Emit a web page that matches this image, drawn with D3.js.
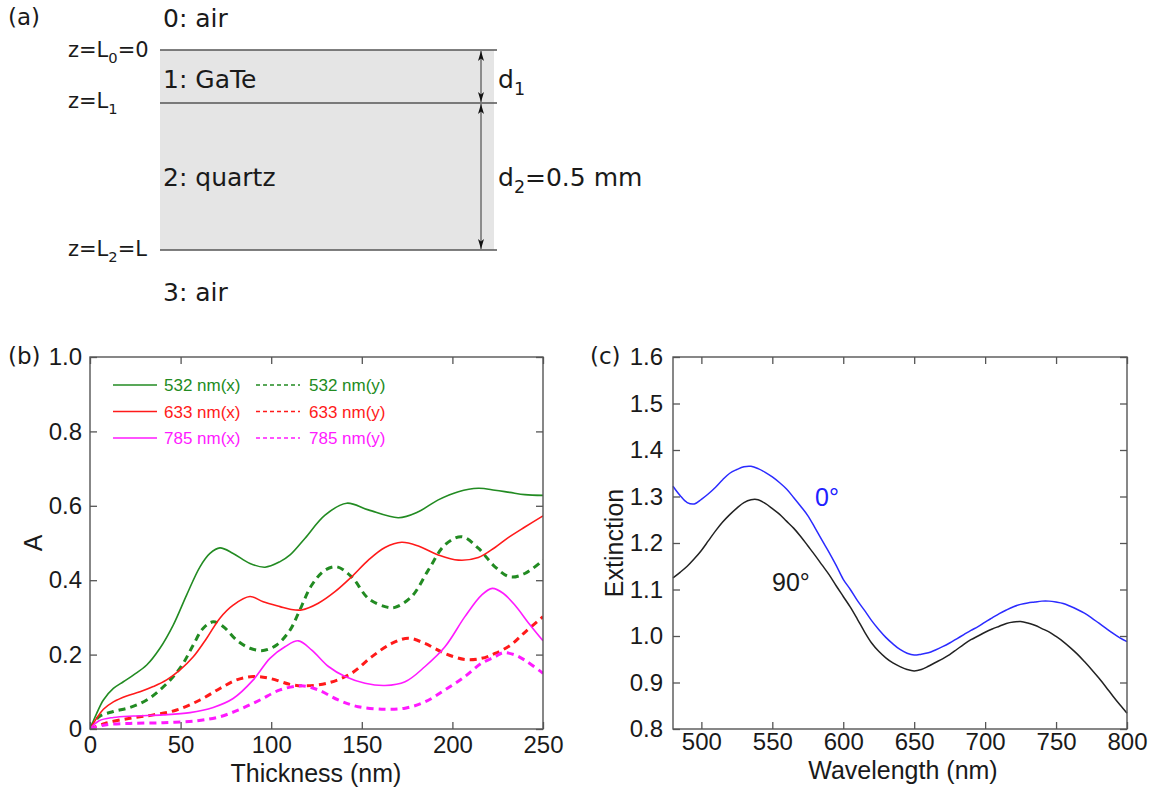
<!DOCTYPE html>
<html>
<head>
<meta charset="utf-8">
<script src="https://cdn.jsdelivr.net/npm/d3@7"></script>
<style>
  body { margin: 0; background: #fff; }
</style>
</head>
<body>
<svg id="fig" width="1157" height="792"></svg>
<script>
// panel (b): absorbance vs GaTe thickness, [thickness nm, A]
const g532x = [[0,0],[3.7,0.042],[7.4,0.078],[12.9,0.109],[18.4,0.127],[23.9,0.145],[31.3,0.172],[38.6,0.217],[46,0.28],[53.3,0.36],[60.7,0.436],[66.2,0.472],[71.7,0.487],[79,0.472],[88.3,0.445],[96.6,0.435],[104.9,0.45],[110.4,0.468],[118.7,0.513],[129.7,0.575],[141.7,0.607],[153.6,0.589],[170.2,0.568],[181.2,0.584],[192.2,0.616],[203.3,0.638],[214.3,0.647],[223.5,0.642],[231.7,0.636],[240,0.63],[250,0.628]];
const g532y = [[0,0],[5,0.033],[12.9,0.047],[22.1,0.058],[31.3,0.078],[38.6,0.105],[46,0.141],[51.5,0.177],[57,0.226],[62.5,0.271],[68,0.288],[73.6,0.275],[80.9,0.239],[88.3,0.217],[95.6,0.211],[103,0.226],[110.4,0.266],[115,0.311],[122.4,0.387],[129.7,0.427],[136.2,0.436],[144.4,0.409],[153.6,0.351],[162.8,0.329],[168.3,0.327],[177.5,0.356],[186.7,0.427],[195.9,0.495],[205.1,0.517],[214.3,0.486],[223.5,0.436],[231.7,0.409],[240,0.418],[250,0.454]];
const r633x = [[0,0],[3.7,0.029],[7.4,0.053],[12.9,0.073],[20.2,0.089],[27.6,0.1],[34.9,0.114],[42.3,0.132],[49.7,0.159],[57,0.194],[64.4,0.244],[71.7,0.298],[79,0.333],[88.3,0.356],[95.6,0.342],[104.9,0.329],[110.4,0.322],[116.8,0.32],[126,0.338],[135.2,0.369],[144.4,0.409],[153.6,0.454],[162.8,0.488],[172,0.502],[181.2,0.492],[192.2,0.468],[203.3,0.454],[214.3,0.461],[223.5,0.488],[231,0.515],[240,0.543],[250,0.573]];
const r633y = [[0,0],[8.3,0.015],[22.1,0.029],[34.9,0.038],[47.8,0.051],[60.7,0.078],[71.7,0.109],[80.9,0.132],[90.1,0.141],[99.3,0.136],[110.4,0.12],[118.7,0.116],[131.6,0.124],[144.4,0.15],[155.4,0.194],[166.5,0.23],[175.7,0.244],[184.8,0.23],[195.9,0.203],[206.9,0.187],[216.1,0.19],[223.5,0.203],[232,0.225],[240,0.26],[250,0.302]];
const m785x = [[0,0],[5,0.022],[12.9,0.031],[23.9,0.035],[40.4,0.038],[55.2,0.044],[68,0.058],[79,0.082],[90.1,0.132],[99.3,0.19],[107.6,0.221],[115,0.237],[122.4,0.212],[131.6,0.168],[140.8,0.141],[151.8,0.123],[162.8,0.117],[173.9,0.127],[184.9,0.168],[195.9,0.221],[206.9,0.302],[216.1,0.36],[222,0.378],[228,0.365],[235,0.33],[242,0.285],[250,0.237]];
const m785y = [[0,0],[8.3,0.011],[22.1,0.015],[40.4,0.017],[58.8,0.022],[71.7,0.033],[82.8,0.053],[93.8,0.078],[104.9,0.105],[116.8,0.116],[126,0.105],[137,0.078],[148,0.06],[162.8,0.053],[173.9,0.056],[184.9,0.073],[195.9,0.105],[206.9,0.141],[216.1,0.177],[223.5,0.194],[228,0.205],[234,0.2],[240,0.185],[250,0.15]];

const thickTicks = [0, 50, 100, 150, 200, 250];
const absTicks = [0, 0.2, 0.4, 0.6, 0.8, 1.0];

// panel (c): extinction spectra, one value every 5 nm from 480 to 800
const wavelengths = d3.range(480, 801, 5);
const ext0 = [1.322,1.302,1.287,1.284,1.294,1.306,1.32,1.336,1.35,1.358,1.364,1.365,1.36,1.352,1.342,1.33,1.316,1.298,1.279,1.259,1.233,1.206,1.18,1.152,1.122,1.1,1.076,1.055,1.033,1.014,0.997,0.983,0.971,0.963,0.959,0.961,0.964,0.97,0.977,0.985,0.994,1.003,1.012,1.02,1.03,1.039,1.048,1.056,1.063,1.068,1.071,1.073,1.075,1.075,1.073,1.07,1.064,1.057,1.049,1.039,1.028,1.017,1.006,0.996,0.988];
const ext90 = [1.125,1.137,1.15,1.166,1.184,1.205,1.226,1.245,1.261,1.275,1.287,1.293,1.293,1.285,1.274,1.262,1.247,1.232,1.214,1.194,1.174,1.153,1.132,1.108,1.085,1.062,1.036,1.009,0.985,0.967,0.953,0.942,0.934,0.928,0.925,0.928,0.935,0.943,0.951,0.96,0.971,0.982,0.992,1.0,1.008,1.015,1.021,1.027,1.03,1.031,1.028,1.023,1.016,1.009,0.999,0.988,0.975,0.961,0.945,0.928,0.91,0.891,0.871,0.852,0.834];
const waveTicks = [500, 550, 600, 650, 700, 750, 800];
const extTicks = [0.8, 0.9, 1.0, 1.1, 1.2, 1.3, 1.4, 1.5, 1.6];

const GREEN = '#228b22', RED = '#ff1a1a', MAG = '#ff1aff', INK = '#1a1a1a';
const legendItems = [
  { label: '532 nm(x)', data: g532x, color: GREEN, dash: false },
  { label: '532 nm(y)', data: g532y, color: GREEN, dash: true },
  { label: '633 nm(x)', data: r633x, color: RED, dash: false },
  { label: '633 nm(y)', data: r633y, color: RED, dash: true },
  { label: '785 nm(x)', data: m785x, color: MAG, dash: false },
  { label: '785 nm(y)', data: m785y, color: MAG, dash: true },
];

const svg = d3.select('#fig');
svg.append('rect').attr('width', 1157).attr('height', 792).attr('fill', '#fff');

const LAB = 'DejaVu Sans, sans-serif';
const NUM = 'Liberation Sans, Arial, sans-serif';

// ---------- panel (a): layer stack ----------
const a = svg.append('g');
a.append('text').attr('x', 8).attr('y', 25).style('font', `23px ${LAB}`).style('fill', INK).text('(a)');
a.append('rect').attr('x', 160).attr('y', 50).attr('width', 334).attr('height', 200).attr('fill', '#e5e5e5');
[50, 103, 250].forEach(y => {
  a.append('line').attr('x1', 160).attr('x2', 497).attr('y1', y).attr('y2', y)
    .attr('stroke', '#555').attr('stroke-width', 1.6);
});

const defs = svg.append('defs');
defs.append('marker').attr('id', 'ah').attr('viewBox', '0 0 10 6')
  .attr('refX', 10).attr('refY', 3).attr('markerWidth', 10).attr('markerHeight', 6)
  .attr('markerUnits', 'userSpaceOnUse').attr('orient', 'auto-start-reverse')
  .append('path').attr('d', 'M0,0 L10,3 L0,6 L2.5,3 Z').attr('fill', '#111');
[[51, 102], [104, 249]].forEach(([y1, y2]) => {
  a.append('line').attr('x1', 481).attr('x2', 481).attr('y1', y1).attr('y2', y2)
    .attr('stroke', '#333').attr('stroke-width', 1)
    .attr('marker-start', 'url(#ah)').attr('marker-end', 'url(#ah)');
});

// text with subscripts via dy shifts
function label(g, x, y, size, pieces) {
  const t = g.append('text').attr('x', x).attr('y', y)
    .style('font', `${size}px ${LAB}`).style('fill', INK);
  let down = false;
  pieces.forEach(p => {
    const isSub = typeof p !== 'string';
    const s = t.append('tspan').text(isSub ? p.sub : p);
    if (isSub && !down) { s.attr('dy', size * 0.28).style('font-size', `${size * 0.7}px`); down = true; }
    else if (!isSub && down) { s.attr('dy', -size * 0.28); down = false; }
  });
}
label(a, 163, 27, 25, ['0: air']);
label(a, 163, 88, 25, ['1: GaTe']);
label(a, 163, 186, 25, ['2: quartz']);
label(a, 163, 301, 25, ['3: air']);
label(a, 68, 57, 21, ['z=L', { sub: '0' }, '=0']);
label(a, 68, 108, 21, ['z=L', { sub: '1' }]);
label(a, 68, 256, 21, ['z=L', { sub: '2' }, '=L']);
label(a, 498, 88, 25, ['d', { sub: '1' }]);
label(a, 498, 186, 25, ['d', { sub: '2' }, '=0.5 mm']);

// ---------- shared frame with inward ticks on four sides ----------
function frame(g, x, y, xt, yt, fx, fy, padX, padY) {
  const [x0, x1] = x.range(), [y0, y1] = y.range();
  const style = sel => {
    sel.select('.domain').remove();
    sel.selectAll('.tick line').attr('stroke', '#555').attr('stroke-width', 1.3);
    sel.selectAll('.tick text').style('font', `24px ${NUM}`).style('fill', INK);
  };
  g.append('g').attr('transform', `translate(0,${y0})`)
    .call(d3.axisBottom(x).tickValues(xt).tickSize(-7).tickPadding(padX).tickFormat(fx)).call(style);
  g.append('g').attr('transform', `translate(0,${y1})`)
    .call(d3.axisTop(x).tickValues(xt).tickSize(-7).tickFormat('')).call(style);
  g.append('g').attr('transform', `translate(${x0},0)`)
    .call(d3.axisLeft(y).tickValues(yt).tickSize(-7).tickPadding(padY).tickFormat(fy)).call(style);
  g.append('g').attr('transform', `translate(${x1},0)`)
    .call(d3.axisRight(y).tickValues(yt).tickSize(-7).tickFormat('')).call(style);
  g.append('rect').attr('x', x0).attr('y', y1).attr('width', x1 - x0).attr('height', y0 - y1)
    .attr('fill', 'none').attr('stroke', '#555').attr('stroke-width', 1.4);
}

// ---------- panel (b) ----------
const b = svg.append('g');
const xB = d3.scaleLinear().domain([0, 250]).range([90, 543]);
const yB = d3.scaleLinear().domain([0, 1]).range([729, 357]);
const lineB = d3.line().x(d => xB(d[0])).y(d => yB(d[1])).curve(d3.curveCatmullRom.alpha(0.5));

b.append('defs').append('clipPath').attr('id', 'clipB')
  .append('rect').attr('x', 90).attr('y', 357).attr('width', 453).attr('height', 372);
const curvesB = b.append('g').attr('clip-path', 'url(#clipB)');
legendItems.forEach(s => {
  curvesB.append('path').attr('d', lineB(s.data)).attr('fill', 'none')
    .attr('stroke', s.color).attr('stroke-width', s.dash ? 3 : 1.6)
    .attr('stroke-dasharray', s.dash ? '7,5' : null);
});
frame(b, xB, yB, thickTicks, absTicks, d3.format('d'),
  d => d === 0 ? '0' : d3.format('.1f')(d), 7, 8);

legendItems.forEach((s, i) => {
  const col = i % 2, row = Math.floor(i / 2);
  const lx = col === 0 ? 113 : 256, ly = 385 + row * 26.5;
  b.append('line').attr('x1', lx).attr('x2', lx + 44).attr('y1', ly).attr('y2', ly)
    .attr('stroke', s.color).attr('stroke-width', 1.6)
    .attr('stroke-dasharray', s.dash ? '4,3' : null);
  b.append('text').attr('x', lx + (col === 0 ? 51 : 53)).attr('y', ly + 6)
    .style('font', `17px ${NUM}`).style('fill', s.color).text(s.label);
});

b.append('text').attr('x', 8).attr('y', 364).style('font', `23px ${LAB}`).style('fill', INK).text('(b)');
b.append('text').attr('transform', 'translate(42,543) rotate(-90)').attr('text-anchor', 'middle')
  .style('font', `25px ${NUM}`).style('fill', INK).text('A');
b.append('text').attr('x', 316).attr('y', 782).attr('text-anchor', 'middle')
  .style('font', `25px ${NUM}`).style('fill', INK).text('Thickness (nm)');

// ---------- panel (c) ----------
const c = svg.append('g');
const xC = d3.scaleLinear().domain([480, 800]).range([673, 1127]);
const yC = d3.scaleLinear().domain([0.8, 1.6]).range([729, 357]);
const lineC = d3.line().x((d, i) => xC(wavelengths[i])).y(d => yC(d)).curve(d3.curveCatmullRom.alpha(0.5));
c.append('path').attr('d', lineC(ext90)).attr('fill', 'none').attr('stroke', '#222').attr('stroke-width', 1.5);
c.append('path').attr('d', lineC(ext0)).attr('fill', 'none').attr('stroke', '#2b2bff').attr('stroke-width', 1.5);
frame(c, xC, yC, waveTicks, extTicks, d3.format('d'), d3.format('.1f'), 4, 10);

c.append('text').attr('x', 590).attr('y', 364).style('font', `23px ${LAB}`).style('fill', INK).text('(c)');
c.append('text').attr('transform', 'translate(623,543) rotate(-90)').attr('text-anchor', 'middle')
  .style('font', `25px ${NUM}`).style('fill', INK).text('Extinction');
c.append('text').attr('x', 903).attr('y', 779).attr('text-anchor', 'middle')
  .style('font', `25px ${NUM}`).style('fill', INK).text('Wavelength (nm)');
c.append('text').attr('x', 815).attr('y', 506).style('font', `25px ${NUM}`).style('fill', '#2020ff').text('0°');
c.append('text').attr('x', 772).attr('y', 591).style('font', `25px ${NUM}`).style('fill', INK).text('90°');
</script>
</body>
</html>
